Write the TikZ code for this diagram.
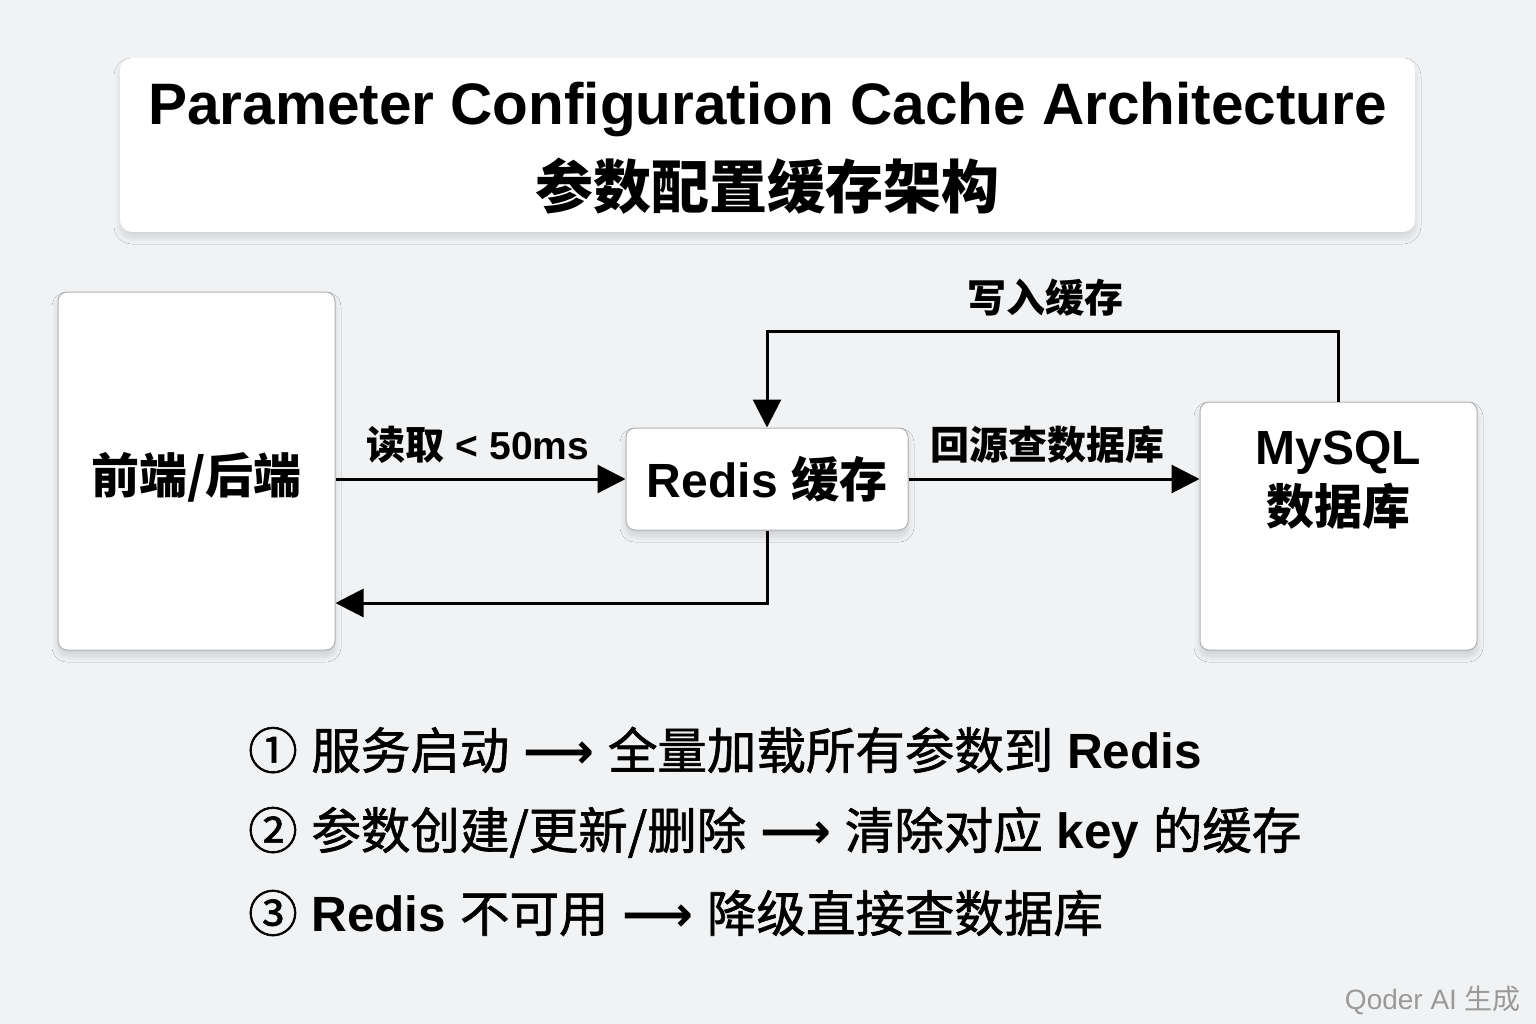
\documentclass[tikz,border=0pt]{standalone}
\usepackage{fontspec}
\setmainfont{Liberation Sans}
\newfontfamily\cjk{Noto Sans CJK SC}
\newfontfamily\cjkm[FakeBold=1.3]{Noto Sans CJK SC}
\newfontfamily\symf{DejaVu Sans}
\usetikzlibrary{arrows.meta,shadows.blur}
\definecolor{bg}{HTML}{F0F2F3}
\definecolor{boxline}{HTML}{AEB1B4}
\definecolor{wm}{HTML}{9A9A9A}
\newcommand{\larr}{{\symf\bfseries ⟶}}
\begin{document}
\begin{tikzpicture}[x=1pt,y=-1pt,
  box/.style={draw=boxline, line width=1pt, fill=white, rounded corners=9pt,
    blur shadow={shadow xshift=0pt, shadow yshift=-6pt, shadow blur steps=12, shadow blur radius=6pt, shadow opacity=14}},
  titlebox/.style={fill=white, rounded corners=12pt,
    blur shadow={shadow xshift=0pt, shadow yshift=-6pt, shadow blur steps=12, shadow blur radius=6pt, shadow opacity=12}},
  arr/.style={line width=3pt, -{Triangle[length=28pt,width=28pt]}},
  lbl/.style={font=\fontsize{39}{44}\selectfont\bfseries, inner sep=0pt},
  boxtext/.style={font=\fontsize{48}{60}\selectfont\bfseries, inner sep=0pt, align=center},
  bullet/.style={font=\fontsize{49.5}{56}\selectfont, anchor=west, inner sep=0pt},
]
\useasboundingbox[fill=bg] (0,0) rectangle (1536,1024);

% title
\node[titlebox, minimum width=1295pt, minimum height=174pt] (title) at (767.5,145) {};
\node[inner sep=0pt, font=\fontsize{58.5}{64}\selectfont\bfseries] (t1) at (767.5,112) {\strut Parameter Configuration Cache Architecture};
\node[inner sep=0pt, font=\fontsize{58}{64}\selectfont\bfseries\cjk] (t2) at (767.5,186) {参数配置缓存架构};

% boxes
\node[box, minimum width=277pt, minimum height=358pt] (fe) at (196.5,471) {};
\node[boxtext] (fetxt) at (196.5,477) {{\cjk 前端/后端}};
\node[box, minimum width=282pt, minimum height=102pt] (redis) at (767,479) {};
\node[boxtext] (redistxt) at (redis.center) {Redis {\cjk 缓存}};
\node[box, minimum width=277pt, minimum height=248pt] (mysql) at (1338.5,526) {};
\node[boxtext] (mysqltxt) at (1338.5,480) {MySQL\\[0pt]{\cjk 数据库}};

% connectors
\draw[arr] (fe.east |- redis.west) -- (redis.west);
\draw[arr] (redis.east) -- (redis.east -| mysql.west);
\draw[arr] (redis.south) |- ([yshift=-132pt]fe.east);
\draw[arr] (mysql.north) |- ++(0,-70) -| (redis.north);

% labels
\node[lbl] (l1) at (478,445) {{\cjk 读取} < 50ms};
\node[lbl] (l2) at (1047,445) {{\cjk 回源查数据库}};
\node[lbl] (l3) at (1045,298) {{\cjk 写入缓存}};

% bullet points
\node[bullet] (b1) at (248,750) {{\cjkm ①} {\cjkm 服务启动} \larr{} {\cjkm 全量加载所有参数到} \textbf{Redis}};
\node[bullet] (b2) at (248,833) {{\cjkm ②} {\cjkm 参数创建/更新/删除} \larr{} {\cjkm 清除对应} \textbf{key} {\cjkm 的缓存}};
\node[bullet] (b3) at (248,913) {{\cjkm ③} \textbf{Redis} {\cjkm 不可用} \larr{} {\cjkm 降级直接查数据库}};

% watermark
\node[anchor=east, inner sep=0pt, text=wm, font=\fontsize{28}{32}\selectfont] (wmark) at (1521,1000) {Qoder AI {\cjk 生成}};
\end{tikzpicture}
\end{document}
